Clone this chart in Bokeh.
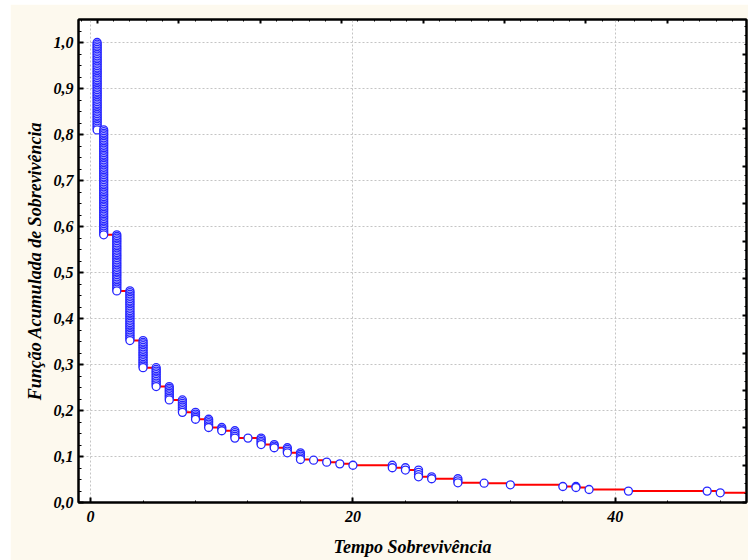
import numpy as np
from bokeh.plotting import figure
from bokeh.models import (Range1d, LinearAxis, SingleIntervalTicker, FixedTicker,
                          CustomJSTickFormatter, ColumnDataSource)
from bokeh.embed import file_html
from bokeh.resources import INLINE

# ---- data ----
times = [0.5, 1, 2, 3, 4, 5, 6, 7, 8, 9, 10, 11, 12, 13, 14, 15, 16, 17, 18, 19, 20,
         23, 24, 25, 26, 28, 30, 32, 36, 37, 38, 41, 47, 48]
survival = [0.81, 0.582, 0.46, 0.352, 0.293, 0.252, 0.223, 0.196, 0.181, 0.163, 0.156,
            0.140, 0.140, 0.126, 0.119, 0.108, 0.0935, 0.092, 0.0877, 0.084, 0.081,
            0.0755, 0.0705, 0.0559, 0.0516, 0.0428, 0.042, 0.0385, 0.0348, 0.0326,
            0.0283, 0.0248, 0.0248, 0.0211]
cases = [52, 63, 34, 30, 17, 12, 9, 8, 5, 6, 3, 5, 1, 5, 3, 4, 5, 1, 1, 1, 1,
         2, 2, 4, 2, 3, 1, 1, 1, 2, 1, 1, 1, 1]
start_level = 1.0
x_end = 50
x_label = "Tempo Sobrevivência"
y_label = "Função Acumulada de Sobrevivência"

# ---- derived glyph data ----
cx, cy = [], []
prev = start_level
for t, s, n in zip(times, survival, cases):
    ys = [s] if n == 1 else list(np.linspace(prev, s, n))
    cx.extend([t] * len(ys))
    cy.extend(ys)
    prev = s

step_x = [times[0]] + times + [x_end]
step_y = [start_level] + survival + [survival[-1]]

FONT = "Liberation Serif"
CREAM = "#FDF9EE"

p = figure(width=738, height=556, margin=(4, 0, 0, 10),
           x_range=Range1d(-0.92, 50), y_range=Range1d(0, 1.05),
           output_backend="svg", toolbar_location=None,
           min_border_left=68, min_border_right=2, min_border_top=15,
           min_border_bottom=58)
p.background_fill_color = "white"
p.border_fill_color = CREAM
p.outline_line_color = "black"
p.outline_line_width = 2

# bottom / left axes
xa = p.xaxis[0]
xa.ticker = SingleIntervalTicker(interval=20, num_minor_ticks=5)
xa.axis_label = x_label
ya = p.yaxis[0]
ya.ticker = SingleIntervalTicker(interval=0.1, num_minor_ticks=4)
ya.formatter = CustomJSTickFormatter(code="return tick.toFixed(1).replace('.', ',');")
ya.axis_label = y_label

for ax in (xa, ya):
    ax.axis_line_width = 2
    ax.axis_line_color = "black"
    ax.major_tick_line_width = 2
    ax.minor_tick_line_width = 1
    ax.major_tick_in = 5
    ax.major_tick_out = 0
    ax.minor_tick_in = 2
    ax.minor_tick_out = 0
    ax.major_label_text_font = FONT
    ax.major_label_text_font_style = "bold italic"
    ax.major_label_text_font_size = "16px"
    ax.major_label_text_color = "black"
    ax.axis_label_text_font = FONT
    ax.axis_label_text_font_style = "bold italic"
    ax.axis_label_text_font_size = "18px"
    ax.axis_label_text_color = "black"
ya.minor_tick_in = 3
xa.major_label_standoff = 8
xa.axis_label_standoff = 12
ya.major_label_standoff = 5
ya.axis_label_standoff = 6

# mirrored axes (top / right) with their own tick spacing, no labels
top_major = [0.52 + 6.207 * k for k in range(9) if 0.52 + 6.207 * k < 50]
top_minor = [0.52 + 1.2414 * k for k in range(-1, 41) if -0.92 < 0.52 + 1.2414 * k < 50]
right_major = [0.0812 * k for k in range(13)]
right_minor = [0.0203 * k for k in range(52) if 0.0203 * k < 1.05]

top = LinearAxis(ticker=FixedTicker(ticks=top_major, minor_ticks=top_minor))
right = LinearAxis(ticker=FixedTicker(ticks=right_major, minor_ticks=right_minor))
for ax in (top, right):
    ax.axis_line_width = 2
    ax.axis_line_color = "black"
    ax.major_tick_line_width = 2
    ax.minor_tick_line_width = 1
    ax.major_tick_in = 4
    ax.major_tick_out = 0
    ax.minor_tick_in = 2
    ax.minor_tick_out = 0
    ax.major_label_text_color = None
    ax.major_label_text_alpha = 0
    ax.major_label_text_font_size = "0px"
    ax.major_label_standoff = 0
    ax.axis_label = None
p.add_layout(top, "above")
p.add_layout(right, "right")

for g in (p.xgrid[0], p.ygrid[0]):
    g.grid_line_color = "#c4c4c4"
    g.grid_line_dash = "2 2"
    g.grid_line_width = 1

p.step(step_x, step_y, mode="after", line_color="#FF0000", line_width=2)
src = ColumnDataSource(dict(x=cx, y=cy))
p.scatter("x", "y", source=src, size=8, marker="circle",
          line_color="#2626FF", line_width=1.3, fill_color="white")

open("out.html", "w").write(file_html(p, INLINE))
